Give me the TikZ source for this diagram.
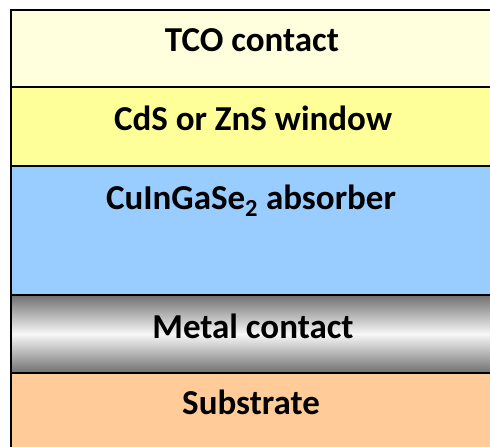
\documentclass[tikz,border=0pt]{standalone}
\usepackage{fontspec}
\setmainfont{Carlito}
\definecolor{tcocol}{RGB}{255,255,221}
\definecolor{windowcol}{RGB}{255,255,153}
\definecolor{absorbercol}{RGB}{153,204,255}
\definecolor{substratecol}{RGB}{255,204,153}
\newcommand\layertext[1]{\fontsize{35}{38}\selectfont\bfseries #1}
\def\leftX{11}
\def\rightX{500}
\begin{document}
\begin{tikzpicture}[x=1pt,y=-1pt,
    layer/.style={
      line width=2.5pt, draw=black
    },
    metalshade/.style={
      top color=black!56, bottom color=black!56, middle color=white!97!black
    },
    label/.style={
      anchor=base, inner sep=0pt
    }
  ]
    \useasboundingbox (0,0) rectangle (490,447);

    % layers, top to bottom
    \path[layer,fill=tcocol] (\leftX,10) rectangle (\rightX,87);
    \path[layer,fill=windowcol] (\leftX,87) rectangle (\rightX,166);
    \path[layer,fill=absorbercol] (\leftX,166) rectangle (\rightX,295);
    \path[layer,metalshade] (\leftX,295) rectangle (\rightX,373);
    \path[layer,fill=substratecol] (\leftX,373) rectangle (\rightX,470);

    \node[label] (TCO) at (252,51) {\layertext{TCO contact}};
    \node[label] (Window) at (253,130) {\layertext{CdS or ZnS window}};
    \node[label] (Absorber) at (251,209) {\layertext{CuInGaSe$_\mathbf{2}$ absorber}};
    \node[label] (Metal) at (253,338) {\layertext{Metal contact}};
    \node[label] (Substrate) at (251,414) {\layertext{Substrate}};
  \end{tikzpicture}
\end{document}
